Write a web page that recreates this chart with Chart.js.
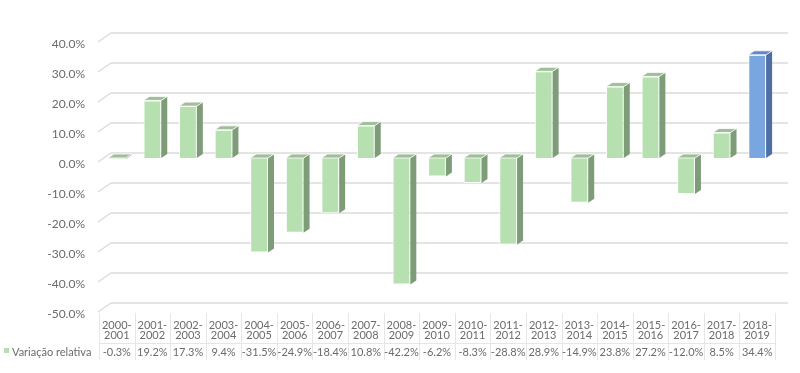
<!DOCTYPE html>
<html>
<head>
<meta charset="utf-8">
<script src="https://cdn.jsdelivr.net/npm/chart.js@4.4.0/dist/chart.umd.min.js"></script>
<style>
  body { margin: 0; background: #fff; }
  #wrap { width: 800px; height: 373px; }
</style>
</head>
<body>
<div id="wrap"><canvas id="chart"></canvas></div>
<script>
'use strict';

// data
let periods = ['2000-2001', '2001-2002', '2002-2003', '2003-2004', '2004-2005', '2005-2006', '2006-2007',
  '2007-2008', '2008-2009', '2009-2010', '2010-2011', '2011-2012', '2012-2013', '2013-2014',
  '2014-2015', '2015-2016', '2016-2017', '2017-2018', '2018-2019'];
let variacao = [-0.3, 19.2, 17.3, 9.4, -31.5, -24.9, -18.4, 10.8, -42.2, -6.2, -8.3, -28.8,
  28.9, -14.9, 23.8, 27.2, -12.0, 8.5, 34.4];
let seriesName = 'Variação relativa';
let yTicks = [40, 30, 20, 10, 0, -10, -20, -30, -40, -50];

let green = '#b7e0b1';
let greenSide = '#7f9c79';
let greenTop = '#9fbf98';
let blue = '#7aa6e0';
let blueSide = '#4f6ea6';
let blueTop = '#6486c4';
let gridColor = '#dcdcdc';
let textColor = '#6b6b6b';
let fontName = 'Lato, "Open Sans", sans-serif';

let depthX = 6;
let depthY = 4;

let frontColors = variacao.map((v, i) => i === variacao.length - 1 ? blue : green);
let sideColors = variacao.map((v, i) => i === variacao.length - 1 ? blueSide : greenSide);
let topColors = variacao.map((v, i) => i === variacao.length - 1 ? blueTop : greenTop);

// slanted 3d gridlines behind the bars
let gridPlugin = {
  id: 'grid3d',
  beforeDatasetsDraw(chart) {
    let ctx = chart.ctx;
    let yScale = chart.scales.y;
    let area = chart.chartArea;
    ctx.save();
    ctx.strokeStyle = gridColor;
    ctx.lineWidth = 1.5;
    yTicks.forEach(t => {
      let y = yScale.getPixelForValue(t);
      ctx.beginPath();
      ctx.moveTo(area.left - 1, y + 4);
      ctx.lineTo(area.left + 12, y - 5);
      ctx.lineTo(area.right + 13, y - 5);
      ctx.stroke();
    });
    ctx.restore();
  }
};

// side and top faces of the columns
let barsPlugin = {
  id: 'bars3d',
  afterDatasetsDraw(chart) {
    let ctx = chart.ctx;
    let meta = chart.getDatasetMeta(0);
    ctx.save();
    meta.data.forEach((bar, i) => {
      let half = bar.width / 2;
      let top = Math.min(bar.y, bar.base);
      let bottom = Math.max(bar.y, bar.base);
      let r = bar.x + half;
      let l = bar.x - half;

      ctx.fillStyle = sideColors[i];
      ctx.beginPath();
      ctx.moveTo(r, top);
      ctx.lineTo(r + depthX, top - depthY);
      ctx.lineTo(r + depthX, bottom - depthY);
      ctx.lineTo(r, bottom);
      ctx.closePath();
      ctx.fill();

      ctx.fillStyle = topColors[i];
      ctx.beginPath();
      ctx.moveTo(l, top);
      ctx.lineTo(l + depthX, top - depthY);
      ctx.lineTo(r + depthX, top - depthY);
      ctx.lineTo(r, top);
      ctx.closePath();
      ctx.fill();

      ctx.strokeStyle = 'rgba(255,255,255,0.8)';
      ctx.lineWidth = 1;
      ctx.stroke();
    });
    ctx.restore();
  }
};

// data table under the chart
let tablePlugin = {
  id: 'dataTable',
  afterDraw(chart) {
    let ctx = chart.ctx;
    let xScale = chart.scales.x;
    let area = chart.chartArea;
    let colW = (area.right - area.left) / periods.length;
    let tableTop = 313;
    let rowLine = 343;
    let tableBottom = 360;

    ctx.save();
    ctx.strokeStyle = '#e6e6e6';
    ctx.lineWidth = 1;

    ctx.beginPath();
    for (let i = 0; i <= periods.length; i++) {
      let x = Math.round(area.left + i * colW) + 0.5;
      ctx.moveTo(x, tableTop);
      ctx.lineTo(x, tableBottom);
    }
    ctx.moveTo(area.left, rowLine + 0.5);
    ctx.lineTo(area.right, rowLine + 0.5);
    ctx.stroke();

    ctx.fillStyle = textColor;
    ctx.font = '11px ' + fontName;
    ctx.textAlign = 'center';
    ctx.textBaseline = 'middle';
    periods.forEach((p, i) => {
      let x = xScale.getPixelForValue(i);
      let parts = p.split('-');
      ctx.fillText(parts[0] + '-', x, 325);
      ctx.fillText(parts[1], x, 335);
      ctx.fillText(variacao[i].toFixed(1) + '%', x, 352);
    });

    // legend key in the table
    ctx.fillStyle = green;
    ctx.fillRect(4, 348, 5, 5);
    ctx.fillStyle = textColor;
    ctx.textAlign = 'left';
    ctx.fillText(seriesName, 12, 352);
    ctx.restore();
  }
};

let canvasElem = document.getElementById('chart');

let chartObj = {
  type: 'bar',
  data: {
    labels: periods,
    datasets: [{
      label: seriesName,
      data: variacao,
      backgroundColor: frontColors,
      borderColor: 'rgba(255,255,255,0.9)',
      borderWidth: 1,
      categoryPercentage: 1,
      barPercentage: 0.5
    }]
  },
  options: {
    responsive: false,
    animation: false,
    layout: {
      padding: { top: 38, right: 25, bottom: 65, left: 0 }
    },
    plugins: {
      legend: { display: false },
      tooltip: { enabled: false }
    },
    scales: {
      x: {
        display: false
      },
      y: {
        min: -50,
        max: 40,
        afterFit(scale) {
          scale.width = 99;
        },
        grid: { display: false, drawTicks: false },
        border: { display: false },
        ticks: {
          stepSize: 10,
          padding: 14,
          labelOffset: 6,
          color: textColor,
          font: { family: fontName, size: 12 },
          callback: v => v.toFixed(1) + '%'
        }
      }
    }
  },
  plugins: [gridPlugin, barsPlugin, tablePlugin]
};

canvasElem.width = 800;
canvasElem.height = 373;
new Chart(canvasElem, chartObj);
</script>
</body>
</html>
